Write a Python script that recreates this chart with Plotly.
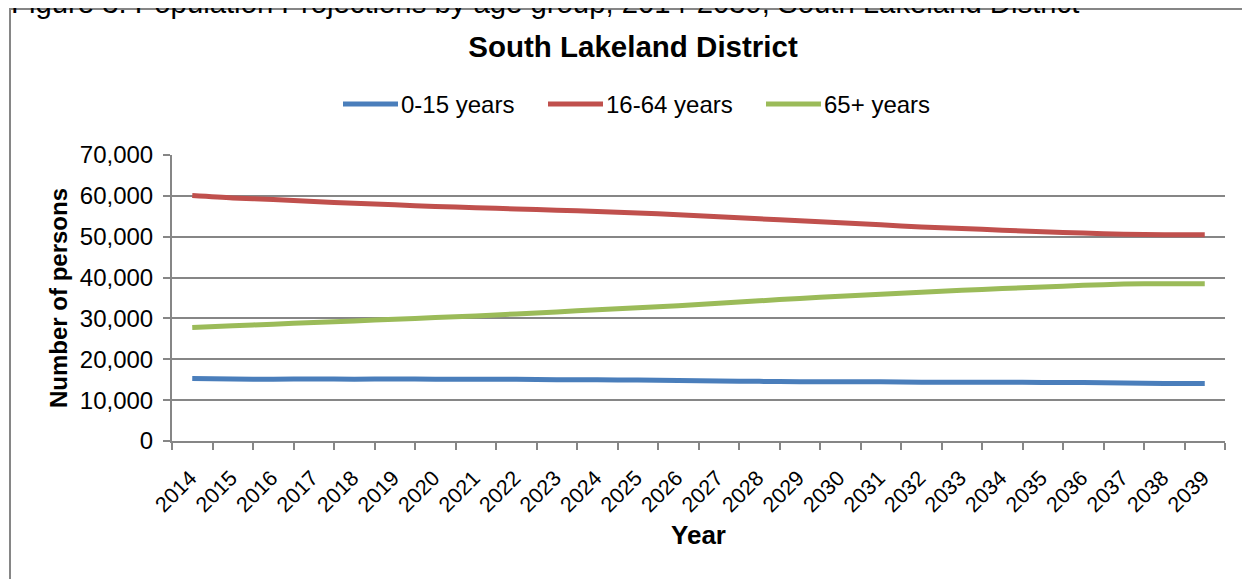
import plotly.graph_objects as go

# ---------------- data ----------------
years = [str(y) for y in range(2014, 2040)]

age_0_15 = [15300, 15200, 15100, 15200, 15100, 15200, 15100, 15100, 15100, 15000,
            15000, 14900, 14800, 14700, 14600, 14500, 14500, 14500, 14400, 14400,
            14400, 14300, 14300, 14200, 14100, 14100]

age_16_64 = [60100, 59500, 59100, 58600, 58200, 57800, 57400, 57100, 56800, 56500,
             56200, 55800, 55400, 54900, 54400, 53900, 53400, 52900, 52400, 52000,
             51600, 51200, 50900, 50600, 50500, 50500]

age_65_plus = [27800, 28200, 28600, 29000, 29400, 29800, 30200, 30600, 31100, 31600,
               32100, 32600, 33100, 33700, 34300, 34900, 35400, 35900, 36400, 36900,
               37300, 37700, 38100, 38400, 38500, 38500]

series_names = ["0-15 years", "16-64 years", "65+ years"]
series_values = [age_0_15, age_16_64, age_65_plus]
series_colors = ["#4A7EBB", "#C0504D", "#9BBB59"]

y_tick_vals = [0, 10000, 20000, 30000, 40000, 50000, 60000, 70000]

chart_title = "South Lakeland District"
caption = "Figure 3: Population Projections by age group, 2014-2039, South Lakeland District"

# ---------------- geometry helpers ----------------
# the page body has an 8px margin, so figure pixel = screen pixel - 8
OFF = 8
W, H = 1250 - OFF, 579 - OFF
L, R, T, B = 172 - OFF, 1225 - OFF, 155 - OFF, 441 - OFF
PW, PH = R - L, B - T


def px_x(sx):
    return (sx - OFF - L) / PW


def px_y(sy):
    return (B - (sy - OFF)) / PH


FONT = "Arial, Liberation Sans, sans-serif"
GRID = "#868686"

fig = go.Figure()
for name, vals, col in zip(series_names, series_values, series_colors):
    fig.add_trace(go.Scatter(
        x=years, y=vals, name=name, mode="lines",
        line=dict(color=col, width=5, shape="spline", smoothing=0.8),
        showlegend=False,
    ))

shapes = []
annotations = []

# chart frame
shapes.append(dict(type="rect", xref="paper", yref="paper",
                   x0=px_x(10), x1=px_x(1270), y0=px_y(9), y1=px_y(620),
                   line=dict(color=GRID, width=2), fillcolor="rgba(0,0,0,0)",
                   layer="below"))

# custom legend (long line samples like the reference)
legend_starts = [343, 548, 766]
legend_y = 104
for name, col, sx in zip(series_names, series_colors, legend_starts):
    shapes.append(dict(type="line", xref="paper", yref="paper",
                       x0=px_x(sx), x1=px_x(sx + 55), y0=px_y(legend_y), y1=px_y(legend_y),
                       line=dict(color=col, width=5)))
    annotations.append(dict(xref="paper", yref="paper", x=px_x(sx + 56), y=px_y(legend_y),
                            xanchor="left", yanchor="middle", showarrow=False,
                            text=name, font=dict(family=FONT, size=24, color="#000000")))

# caption above the frame, clipped by the top of the page
annotations.append(dict(xref="paper", yref="paper", x=px_x(9), y=px_y(2),
                        xanchor="left", yanchor="middle", showarrow=False,
                        text=caption, font=dict(family=FONT, size=29.3, color="#000000")))

fig.update_layout(
    width=W, height=H,
    margin=dict(l=L, r=W - R, t=T, b=H - B, pad=0),
    paper_bgcolor="white", plot_bgcolor="white",
    font=dict(family=FONT, color="#000000"),
    title=dict(text="<b>" + chart_title + "</b>", x=(633 - OFF) / W, xanchor="center",
               xref="container", y=1 - (47 - OFF) / H, yanchor="middle", yref="container",
               font=dict(family=FONT, size=29.5, color="#000000")),
    shapes=shapes,
    annotations=annotations,
    showlegend=False,
)

fig.update_xaxes(
    type="category", range=[-0.5, len(years) - 0.5],
    showgrid=False, showline=True, linecolor=GRID, linewidth=2,
    ticks="outside", tickson="boundaries", ticklen=7, tickwidth=1.5, tickcolor=GRID,
    tickangle=-45, ticklabelstandoff=14, ticklabelshift=-2,
    tickfont=dict(family=FONT, size=21.5, color="#000000"),
    title=dict(text="<b>Year</b>", font=dict(family=FONT, size=26, color="#000000"), standoff=10),
)

fig.update_yaxes(
    range=[0, 70000], tickvals=y_tick_vals, tickformat=",",
    showgrid=True, gridcolor=GRID, gridwidth=1.5,
    showline=True, linecolor=GRID, linewidth=2, zeroline=False,
    ticks="outside", ticklen=7, tickwidth=1.5, tickcolor=GRID, ticklabelstandoff=5,
    tickfont=dict(family=FONT, size=24, color="#000000"),
    title=dict(text="<b>Number of persons</b>", font=dict(family=FONT, size=24, color="#000000"), standoff=5),
)

fig.write_html("out.html")
